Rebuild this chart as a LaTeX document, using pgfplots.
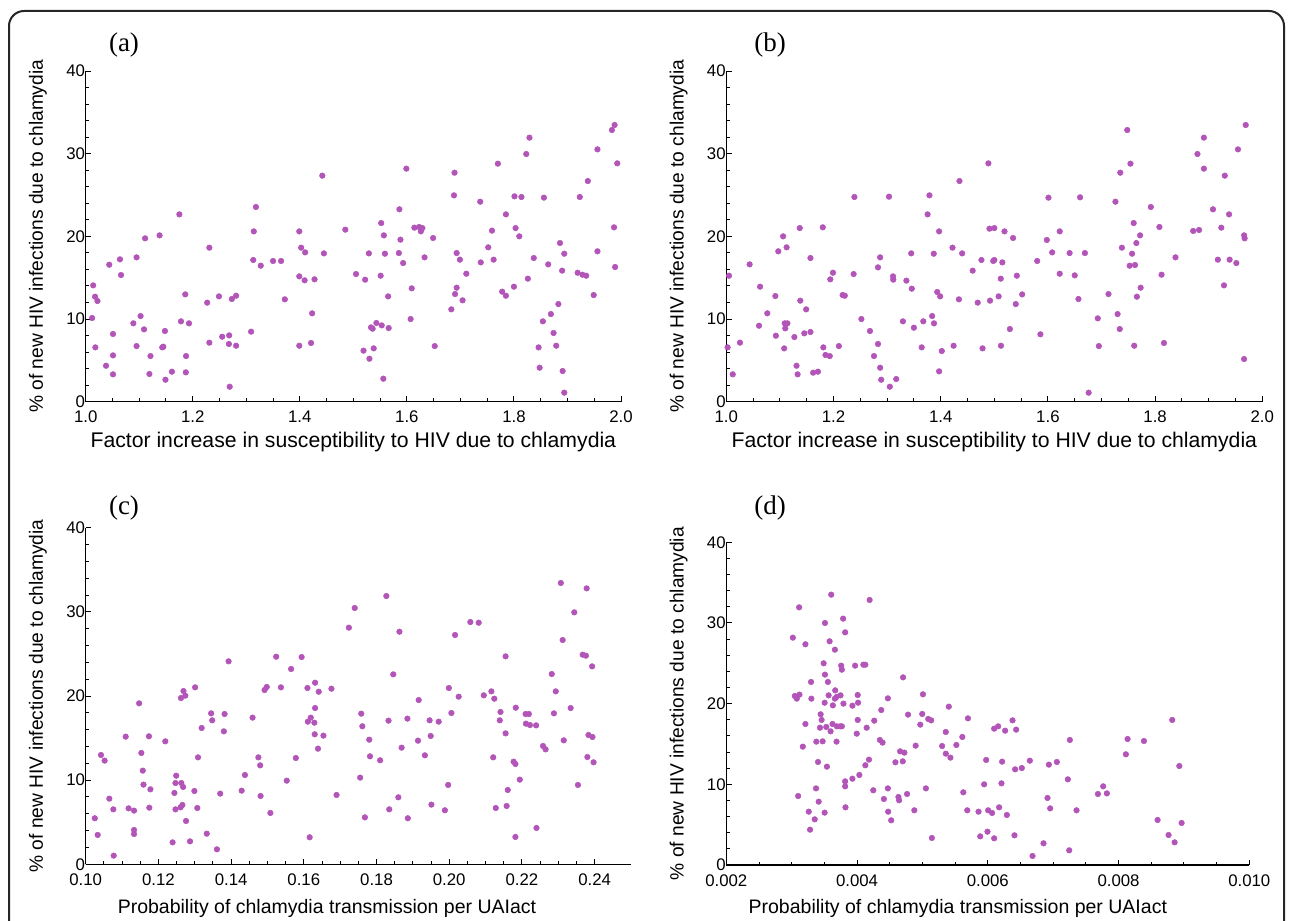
\documentclass[border=0pt]{standalone}
\usepackage{pgfplots}
\pgfplotsset{compat=1.18}
\usepackage{fontspec}
\setmainfont{Liberation Sans}
\newfontfamily\seriffont{Liberation Serif}
\definecolor{dot}{RGB}{178,84,184}
\pgfplotsset{
 panel/.style={
  scale only axis, axis x line*=bottom, axis y line*=left, tick align=inside,
  major tick length=2.6pt, minor tick length=1.6pt,
  tick style={black, line width=0.5pt}, axis line style={black, line width=0.6pt},
  ymin=0, ymax=40, ytick={0,10,20,30,40}, minor y tick num=4,
  tick label style={font=\fontsize{8.4}{10}\selectfont},
  yticklabel shift=-3.2pt, xticklabel shift=1.2pt,
  /pgf/number format/assume math mode=true,
  label style={font=\fontsize{9.6}{11}\selectfont},
  ylabel={\% of new HIV infections due to chlamydia},
  ylabel style={at={([xshift=-23.85pt]axis description cs:0,0.5)}, anchor=center},
  clip=false, anchor=south west,
 },
 dots/.style={only marks, mark=*, mark size=1.4pt, color=dot, mark options={solid, draw=dot, fill=dot, line width=0.25pt}},
}
\begin{document}
\begin{tikzpicture}
\useasboundingbox (0,0) rectangle (646.5pt,460pt);
\draw[line width=1pt, black!85, rounded corners=7.5pt] (4.5pt,-20pt) rectangle (642pt,454.5pt);
\node[font=\seriffont\fontsize{13.5}{15}\selectfont] at (62pt,437.5pt) {(a)};
\node[font=\seriffont\fontsize{13.5}{15}\selectfont] at (385pt,437.5pt) {(b)};
\node[font=\seriffont\fontsize{13.5}{15}\selectfont] at (62pt,206pt) {(c)};
\node[font=\seriffont\fontsize{13.5}{15}\selectfont] at (385pt,206pt) {(d)};
% (a)
\begin{axis}[panel, at={(42.85pt,259.15pt)}, width=267.65pt, height=165.35pt,
  xmin=1, xmax=2, xtick={1,1.2,1.4,1.6,1.8,2}, minor x tick num=3,
  x tick label style={/pgf/number format/fixed, /pgf/number format/fixed zerofill, /pgf/number format/precision=1},
  xlabel={Factor increase in susceptibility to HIV due to chlamydia},
  xlabel style={font=\fontsize{10.6}{12}\selectfont, at={([yshift=-20.3pt]axis description cs:0.5,0)}, anchor=center}]
\addplot[dots] coordinates {(1.012,10.12)(1.014,14.07)(1.0175,12.70)(1.022,12.18)(1.018,6.57)(1.038,4.35)(1.044,16.57)(1.051,8.19)(1.051,5.60)(1.051,3.31)(1.064,17.22)(1.066,15.32)(1.089,9.48)(1.095,17.46)(1.095,6.73)(1.1025,10.36)(1.109,8.75)(1.111,19.76)(1.121,5.52)(1.119,3.35)(1.138,20.12)(1.143,6.57)(1.145,6.65)(1.148,8.55)(1.149,2.66)(1.161,3.63)(1.175,22.66)(1.178,9.72)(1.186,12.98)(1.1875,5.52)(1.187,3.55)(1.193,9.48)(1.227,11.98)(1.231,18.63)(1.231,7.14)(1.249,12.74)(1.255,7.86)(1.268,8.02)(1.2675,6.98)(1.273,12.42)(1.281,12.82)(1.281,6.77)(1.269,1.81)(1.309,8.47)(1.313,17.14)(1.314,20.60)(1.318,23.55)(1.327,16.45)(1.35,17.02)(1.365,17.02)(1.372,12.38)(1.399,20.60)(1.399,15.16)(1.4025,18.63)(1.409,14.68)(1.41,18.06)(1.399,6.77)(1.423,10.69)(1.421,7.10)(1.4275,14.80)(1.442,27.34)(1.445,17.94)(1.485,20.81)
(1.505,15.44)(1.522,14.76)(1.529,17.94)(1.519,6.17)(1.530,5.20)(1.533,8.99)(1.536,8.83)(1.538,6.45)(1.543,9.52)(1.552,21.61)(1.551,15.24)(1.553,9.23)(1.556,2.78)(1.557,20.12)(1.559,17.90)(1.565,12.74)(1.566,8.91)(1.586,23.27)(1.588,19.60)(1.585,17.98)(1.593,16.77)(1.599,28.19)(1.609,13.71)(1.607,10.0)(1.614,21.05)(1.623,21.13)(1.629,21.0)(1.626,20.6)(1.633,17.46)(1.649,19.8)(1.652,6.73)(1.689,27.7)(1.688,24.96)(1.693,17.98)(1.699,17.18)(1.711,15.48)(1.693,13.79)(1.690,13.02)(1.704,12.26)(1.683,11.17)(1.737,24.19)(1.738,16.85)(1.752,18.67)(1.759,20.69)(1.762,17.18)(1.770,28.79)(1.785,22.66)(1.778,13.31)(1.785,12.82)(1.801,24.84)(1.814,24.76)(1.803,21.0)(1.810,20.0)(1.800,13.91)(1.823,29.96)(1.829,31.94)(1.826,14.88)(1.837,17.38)(1.856,24.68)(1.864,16.61)(1.886,19.19)(1.894,17.90)(1.890,15.85)(1.883,11.81)(1.869,10.60)(1.854,9.72)(1.874,8.31)(1.879,6.77)(1.846,6.57)(1.848,4.11)(1.891,3.71)(1.894,1.09)(1.919,15.6)(1.928,15.36)(1.935,15.24)(1.923,24.76)(1.938,26.69)(1.956,30.52)(1.949,12.90)(1.956,18.19)(1.983,32.86)(1.988,33.47)(1.993,28.83)(1.987,21.09)(1.989,16.29)};
\end{axis}
% (b)
\begin{axis}[panel, at={(363.15pt,259.15pt)}, width=268pt, height=165.35pt,
  xmin=1, xmax=2, xtick={1,1.2,1.4,1.6,1.8,2}, minor x tick num=3,
  x tick label style={/pgf/number format/fixed, /pgf/number format/fixed zerofill, /pgf/number format/precision=1},
  xlabel={Factor increase in susceptibility to HIV due to chlamydia},
  xlabel style={font=\fontsize{10.6}{12}\selectfont, at={([yshift=-20.3pt]axis description cs:0.5,0)}, anchor=center}]
\addplot[dots] coordinates {(1.0025,6.57)(1.005,15.24)(1.012,3.31)(1.0255,7.14)(1.0435,16.61)(1.061,9.19)(1.063,13.91)(1.0765,10.69)(1.0915,12.78)(1.0925,7.98)(1.097,18.19)(1.106,20.0)(1.108,6.45)(1.109,9.48)(1.110,8.87)(1.114,9.48)(1.1125,18.67)(1.127,7.82)(1.131,4.35)(1.133,3.31)(1.137,21.0)(1.138,12.22)(1.1455,8.27)(1.149,11.17)(1.157,17.38)(1.157,8.43)(1.162,3.51)(1.171,3.63)(1.180,21.09)(1.181,6.57)(1.185,5.65)(1.193,5.52)(1.194,14.80)(1.199,15.60)(1.210,6.73)(1.217,12.90)(1.221,12.82)(1.2375,15.44)(1.239,24.76)(1.252,10.0)(1.268,8.55)(1.2755,5.52)(1.283,6.98)(1.283,16.25)(1.287,4.11)(1.287,17.46)(1.289,2.66)(1.3035,24.8)(1.305,1.81)(1.311,15.16)(1.3115,14.76)(1.317,2.74)(1.3295,9.72)(1.336,14.64)(1.345,17.94)(1.346,13.67)(1.350,8.95)(1.3645,6.57)(1.3675,9.72)(1.3755,22.66)(1.379,24.96)(1.387,17.90)(1.384,10.36)(1.3875,9.48)(1.3935,13.27)(1.397,20.60)(1.399,12.74)(1.397,3.67)(1.402,6.13)(1.422,18.63)(1.434,12.38)(1.435,26.69)(1.440,17.94)(1.424,6.77)(1.4596,15.85)(1.469,11.98)(1.476,17.14)(1.478,6.45)(1.489,28.83)(1.491,20.93)(1.492,12.22)
(1.500,21.0)(1.498,17.02)(1.500,17.14)(1.515,16.85)(1.519,20.60)(1.512,14.88)(1.508,12.74)(1.5124,6.77)(1.529,8.79)(1.535,19.80)(1.542,15.24)(1.540,11.81)(1.552,12.98)(1.580,17.02)(1.586,8.15)(1.598,19.56)(1.601,24.68)(1.608,18.06)(1.622,20.60)(1.622,15.48)(1.6405,17.98)(1.650,15.28)(1.657,12.42)(1.660,24.72)(1.669,17.98)(1.676,1.09)(1.693,10.08)(1.695,6.73)(1.713,13.02)(1.726,24.19)(1.730,10.60)(1.734,8.79)(1.735,27.70)(1.738,18.63)(1.748,32.86)(1.7525,16.45)(1.754,28.79)(1.757,17.90)(1.760,21.61)(1.7625,16.53)(1.765,19.19)(1.772,20.12)(1.773,13.79)(1.766,12.70)(1.761,6.77)(1.792,23.55)(1.808,21.13)(1.812,15.36)(1.8165,7.10)(1.838,17.46)(1.871,20.65)(1.879,29.96)(1.882,20.77)(1.891,31.94)(1.891,28.19)(1.908,23.27)(1.917,17.18)(1.9235,21.05)(1.9285,14.07)(1.930,27.34)(1.938,22.66)(1.939,17.18)(1.9515,16.77)(1.9546,30.52)(1.966,20.12)(1.967,19.76)(1.969,33.47)(1.966,5.16)};
\end{axis}
% (c)
\begin{axis}[panel, at={(42.85pt,27.85pt)}, width=272.65pt, height=168.3pt,
  xmin=0.1, xmax=0.25, xtick={0.10,0.12,0.14,0.16,0.18,0.20,0.22,0.24}, minor x tick num=3,
  x tick label style={/pgf/number format/fixed, /pgf/number format/fixed zerofill, /pgf/number format/precision=2},
  xlabel={Probability of chlamydia transmission per UAIact},
  xlabel style={font=\fontsize{9.75}{11}\selectfont, at={([yshift=-22.1pt, xshift=-15.7pt]axis description cs:0.5,0)}, anchor=center}]
\addplot[dots] coordinates {(0.1025,5.47)(0.1033,3.49)(0.1042,12.99)(0.1052,12.32)(0.1065,7.80)(0.1076,6.53)(0.1077,1.03)(0.1110,15.17)(0.1118,6.65)(0.1133,6.38)(0.1133,4.08)(0.1133,3.60)(0.1147,19.13)(0.1153,13.23)(0.1157,11.13)(0.1159,9.47)(0.1174,15.21)(0.1175,6.73)(0.1178,8.91)(0.1219,14.61)(0.1239,2.61)(0.1244,8.48)(0.1247,9.66)(0.1249,10.53)(0.1247,6.53)(0.1262,19.76)(0.1263,9.66)(0.1261,6.77)(0.1266,7.05)(0.1268,9.19)(0.1269,20.59)(0.1274,20.04)(0.1276,5.15)(0.1287,2.73)(0.1299,8.71)(0.1301,21.03)(0.1307,6.69)(0.1309,12.71)(0.1319,16.20)(0.1333,3.64)(0.1345,17.94)(0.1348,17.11)(0.1361,1.78)(0.1370,8.40)(0.1380,15.80)(0.1382,17.86)(0.1393,24.12)(0.1429,8.75)(0.1438,10.61)(0.1459,17.43)(0.1475,12.71)(0.1480,11.76)(0.1481,8.12)(0.1508,6.10)(0.1492,20.71)(0.1498,21.07)(0.1524,24.67)(0.1537,21.03)(0.1553,9.94)(0.1565,23.21)(0.1578,12.63)(0.1594,24.63)(0.1610,20.95)(0.1611,16.95)(0.1619,17.43)(0.1616,3.21)(0.1629,16.83)(0.1630,15.45)(0.1631,21.58)(0.1631,18.57)(0.1639,13.74)(0.1641,20.51)(0.1654,15.29)(0.1676,20.87)(0.1690,8.24)(0.1724,28.12)
(0.1740,30.46)(0.1755,10.30)(0.1758,17.90)(0.1761,16.40)(0.1768,5.58)(0.1780,14.81)(0.1782,12.83)(0.1810,12.36)(0.1827,31.88)(0.1833,17.07)(0.1835,6.53)(0.1846,22.57)(0.1860,7.96)(0.1863,27.64)(0.1869,13.86)(0.1885,17.31)(0.1886,5.47)(0.1914,14.69)(0.1916,19.52)(0.1933,12.95)(0.1946,17.11)(0.1949,15.25)(0.1951,7.09)(0.1971,16.95)(0.1988,6.42)(0.1997,9.43)(0.1999,20.95)(0.2006,17.98)(0.2016,27.25)(0.2026,19.92)(0.2058,28.79)(0.2081,28.71)(0.2095,20.08)(0.2116,20.55)(0.2124,19.68)(0.2121,12.71)(0.2128,6.69)(0.2139,17.11)(0.2141,18.10)(0.2155,24.71)(0.2155,15.56)(0.2158,6.93)(0.2161,8.83)(0.2177,12.20)(0.2182,11.92)(0.2183,18.61)(0.2182,3.25)(0.2194,10.06)(0.2210,17.86)(0.2219,17.86)(0.2211,16.71)(0.2222,16.55)(0.2239,16.51)(0.2240,4.32)(0.2258,14.06)(0.2265,13.66)(0.2282,22.61)(0.2288,17.94)(0.2293,20.55)(0.2307,33.43)(0.2312,26.65)(0.2315,14.73)(0.2334,18.57)(0.2344,29.94)(0.2354,9.43)(0.2367,24.91)(0.2376,24.79)(0.2378,32.79)(0.2380,12.75)(0.2383,15.37)(0.2394,15.13)(0.2393,23.52)(0.2397,12.12)};
\end{axis}
% (d)
\begin{axis}[panel, at={(363.15pt,27.5pt)}, width=261.5pt, height=161.35pt,
  xmin=0.002, xmax=0.010, xtick={0.002,0.004,0.006,0.008,0.010}, minor x tick num=3,
  scaled x ticks=false,
  x tick label style={/pgf/number format/fixed, /pgf/number format/fixed zerofill, /pgf/number format/precision=3},
  xlabel={Probability of chlamydia transmission per UAIact},
  xlabel style={font=\fontsize{9.75}{11}\selectfont, at={([yshift=-21.8pt, xshift=-15pt]axis description cs:0.5,0)}, anchor=center}]
\addplot[dots] coordinates {(0.003018,28.18)(0.003114,31.94)(0.003048,20.95)(0.003078,20.62)(0.003119,21.12)(0.003099,8.55)(0.003170,14.67)(0.003210,27.36)(0.003210,17.48)(0.003261,6.61)(0.003281,4.38)(0.003296,22.69)(0.003301,20.62)(0.003352,5.66)(0.003372,9.50)(0.003377,15.29)(0.003403,12.77)(0.003413,7.85)(0.003433,17.02)(0.003443,18.68)(0.003458,17.98)(0.003473,15.33)(0.003489,25.0)(0.003504,20.12)(0.003504,6.49)(0.003509,30.0)(0.003509,23.60)(0.003529,17.11)(0.003539,12.19)(0.003554,22.69)(0.003565,21.03)(0.003580,27.73)(0.003595,16.57)(0.003605,33.51)(0.003630,19.79)(0.003625,17.48)(0.003661,26.69)(0.003666,21.65)(0.003661,20.62)(0.003686,20.83)(0.003691,17.19)(0.003686,15.29)(0.003742,17.19)(0.003747,21.03)(0.003757,24.71)(0.003767,24.21)(0.003787,30.54)(0.003767,17.19)(0.003792,20.0)(0.003818,28.84)(0.003818,10.37)(0.003818,9.75)(0.003823,7.15)(0.003929,19.75)(0.003929,10.70)(0.003970,24.71)(0.003995,16.28)(0.004010,21.07)(0.004015,20.12)(0.004010,17.98)(0.004035,11.16)(0.004096,24.83)(0.004127,24.83)(0.004127,12.36)(0.004147,17.02)(0.004182,13.06)(0.004192,32.85)(0.004248,9.26)(0.004263,17.89)(0.004349,15.50)(0.004370,19.21)(0.004390,15.17)(0.004410,8.18)(0.004471,20.66)(0.004471,9.50)(0.004476,6.61)(0.004522,5.54)(0.004587,12.73)(0.004633,8.43)(0.004643,8.02)(0.004658,14.09)(0.004699,12.85)(0.004704,23.26)(0.004724,13.93)(0.004765,8.80)(0.004780,18.64)(0.004876,6.78)(0.004896,14.79)(0.004967,17.40)(0.004997,18.72)(0.005008,21.16)(0.005053,9.50)(0.005089,18.10)(0.005134,17.93)(0.005144,3.35)(0.005301,14.75)(0.005357,16.49)(0.005357,13.80)(0.005403,19.63)(0.005428,13.31)(0.005519,14.88)(0.005610,15.87)(0.005625,9.01)(0.005686,6.78)(0.005696,18.18)(0.005858,6.61)(0.005884,3.55)(0.005944,10.0)(0.005975,13.02)(0.005995,4.13)(0.006005,6.78)
(0.006066,6.45)(0.006097,16.90)(0.006097,3.31)(0.006158,17.19)(0.006173,7.15)(0.006209,10.12)(0.006219,12.81)(0.006265,16.65)(0.006291,6.20)(0.006378,17.93)(0.006408,3.68)(0.006418,11.86)(0.006434,16.78)(0.006520,12.02)(0.006643,12.93)(0.006684,1.12)(0.006852,2.69)(0.006913,8.31)(0.006934,12.44)(0.006954,7.02)(0.007056,12.77)(0.007224,10.62)(0.007245,1.82)(0.007255,15.50)(0.007357,6.78)(0.007684,8.80)(0.007765,9.75)(0.007821,8.88)(0.008112,13.72)(0.008138,15.62)(0.008388,15.37)(0.008597,5.58)(0.008765,3.72)(0.008821,17.98)(0.008857,2.81)(0.008929,12.27)(0.008964,5.21)};
\end{axis}
\end{tikzpicture}
\end{document}
